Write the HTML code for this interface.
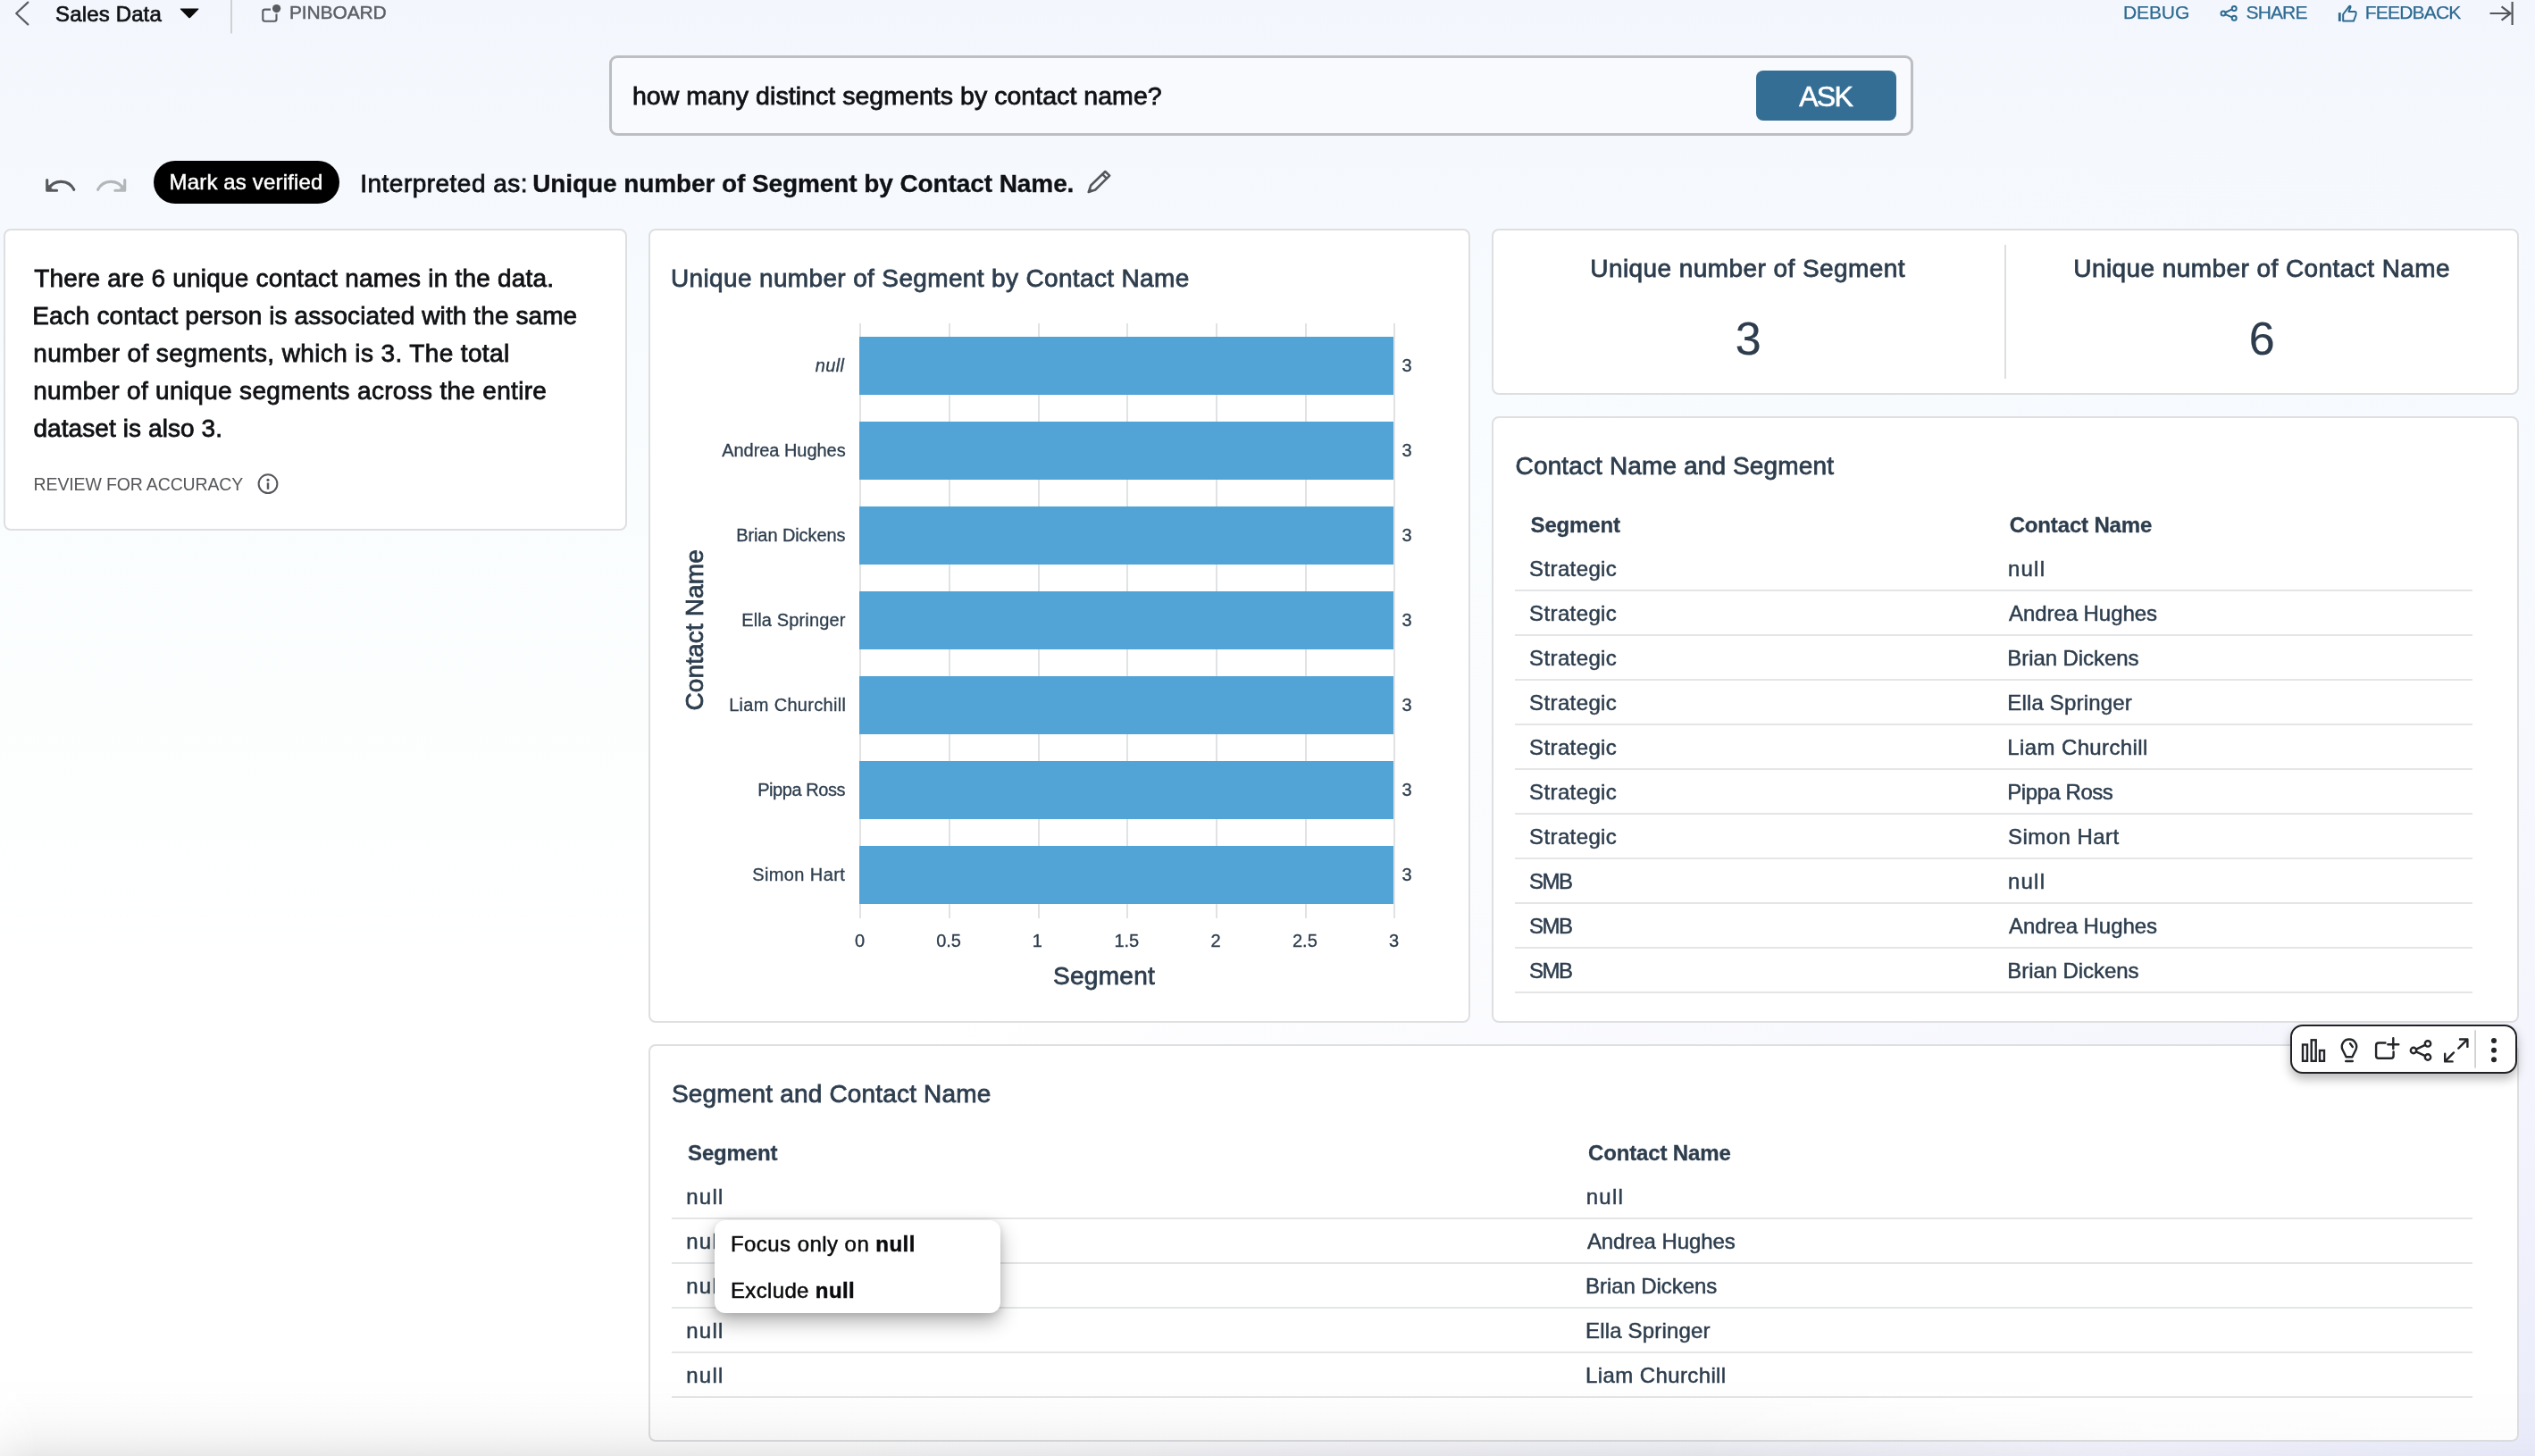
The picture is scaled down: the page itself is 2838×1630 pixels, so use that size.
<!DOCTYPE html>
<html lang="en"><head><meta charset="utf-8"><title>Sales Data</title>
<style>
html,body{margin:0;padding:0}
body{width:2838px;height:1630px;overflow:hidden;position:relative;font-family:"Liberation Sans",sans-serif;
 background-color:#fff;
 background-image:
  radial-gradient(ellipse 1900px 1500px at 100% 100%, rgba(234,235,251,0.95) 0%, rgba(236,238,251,0.5) 35%, rgba(240,242,252,0) 100%),
  linear-gradient(to bottom, #f3f7fd 0px, #f5f9fe 150px, #f6fafe 260px, #fafdfe 560px, #fcfefe 800px, #ffffff 1100px);
}
.t{position:absolute;white-space:pre;line-height:1;font-family:"Liberation Sans",sans-serif;-webkit-text-stroke-color:currentColor}
.t b{font-weight:700}.t i{font-style:italic}
#app{position:absolute;left:0;top:0;width:2838px;height:1630px;will-change:transform}
.abs{position:absolute}
.card{position:absolute;box-sizing:border-box;background:#fff;border:2px solid #dedfe1;border-radius:8px}
.hl{position:absolute;height:2px;background:#e3e5e7}
.grid{position:absolute;width:2px;background:#e0e2e4;top:362px;height:666px}
.bar{position:absolute;left:962px;width:598px;height:65.4px;background:#53a4d6}
svg{position:absolute;overflow:visible}
</style></head>
<body>
<div id="app">
<svg style="left:0;top:0" width="460" height="40" viewBox="0 0 460 40"><polyline points="31.3,2.6 18.2,15 31.3,27.4" fill="none" stroke="#5a5c60" stroke-width="2.2" stroke-linecap="round" stroke-linejoin="round"/><path d="M202.4,9.6 L221.8,9.6 Q223,9.6 222.2,10.6 L212.9,19.9 Q212.1,20.6 211.3,19.9 L202,10.6 Q201.2,9.6 202.4,9.6 Z" fill="#0b0b0c"/><rect x="258" y="0" width="2" height="37.5" fill="#cfd1d4"/><path d="M303,10.6 L296.5,10.6 Q294.3,10.6 294.3,12.8 L294.3,21.6 Q294.3,23.8 296.5,23.8 L307.3,23.8 Q309.5,23.8 309.5,21.6 L309.5,15.5" fill="none" stroke="#5a5c60" stroke-width="2.1"/><circle cx="309.6" cy="9.6" r="4.6" fill="#5a5c60"/></svg>
<svg style="left:2470px;top:0" width="368" height="40" viewBox="2470 0 368 40"><g fill="none" stroke="#2e6a91" stroke-width="2"><circle cx="2489" cy="15" r="2.5"/><circle cx="2501.2" cy="9.4" r="2.5"/><circle cx="2501.2" cy="20.3" r="2.5"/><path d="M2491.3,14 L2498.9,10.4 M2491.3,16.1 L2498.9,19.3"/><path d="M2623.2,23.6 L2623.2,16 L2630.2,6.9 Q2631.6,6.3 2631.5,8 L2629.4,12.9 L2636.6,12.9 Q2637.9,13.1 2637.7,14.6 L2637.4,17 L2634.9,23.6 Z" stroke-linejoin="round"/></g><rect x="2617.9" y="14.2" width="2.8" height="9.7" fill="#2e6a91"/><g fill="none" stroke="#54565a" stroke-width="2.2"><path d="M2787.5,15 L2810,15 M2800.6,7.4 L2810.6,15 L2800.6,22.6" stroke-linejoin="miter"/><path d="M2812.6,2 L2812.6,28"/></g></svg>
<div class="abs" style="left:682px;top:62px;width:1460px;height:90px;box-sizing:border-box;border:3px solid #bcbec3;border-radius:9px;background:#f8fafe"></div>
<div class="abs" style="left:1966px;top:79px;width:157px;height:56px;border-radius:8px;background:#356e95"></div>
<svg style="left:40px;top:185px" width="120" height="45" viewBox="40 185 120 45"><g fill="none" stroke="#58595c" stroke-width="3.1" stroke-linecap="round" stroke-linejoin="round"><path d="M82.8,212.3 A16.2,16.2 0 0 0 54.2,211.6"/><path d="M52.7,201.6 L52.7,213.2 L63.6,213.2"/><path d="M53.5,207 L53.5,212.4 L58.5,212.4 Z" fill="#58595c" stroke-width="1"/></g><g fill="none" stroke="#b4b7b9" stroke-width="3.1" stroke-linecap="round" stroke-linejoin="round"><path d="M109.6,212.3 A16.2,16.2 0 0 1 138.2,211.6"/><path d="M139.7,201.6 L139.7,213.2 L128.8,213.2"/><path d="M138.9,207 L138.9,212.4 L133.9,212.4 Z" fill="#b4b7b9" stroke-width="1"/></g></svg>
<div class="abs" style="left:172px;top:180px;width:208px;height:48px;border-radius:24px;background:#000"></div>
<svg style="left:1210px;top:185px" width="40" height="36" viewBox="1210 185 40 36"><path d="M1218.7,215 L1221.3,207.5 L1237.3,192 L1242.2,196.7 L1226.2,212.5 Z M1234.2,195.1 L1239.1,199.8" fill="none" stroke="#55575b" stroke-width="2.5" stroke-linejoin="round"/><path d="M1218.7,215 L1220.2,210.4 L1223.4,213.5 Z" fill="#55575b"/></svg>
<div class="card" style="left:4px;top:256px;width:698px;height:338px"></div>
<div class="card" style="left:726px;top:256px;width:920px;height:889px"></div>
<div class="card" style="left:1670px;top:256px;width:1150px;height:186px"></div>
<div class="card" style="left:1670px;top:466px;width:1150px;height:679px"></div>
<div class="card" style="left:726px;top:1169px;width:2094px;height:445px"></div>
<svg style="left:286px;top:528px" width="28" height="28" viewBox="286 528 28 28"><circle cx="300" cy="541.7" r="10.4" fill="none" stroke="#55575a" stroke-width="2"/><circle cx="300" cy="537.3" r="1.6" fill="#55575a"/><rect x="298.75" y="540.4" width="2.5" height="7.4" fill="#55575a"/></svg>
<div class="grid" style="left:962px"></div>
<div class="grid" style="left:1062px"></div>
<div class="grid" style="left:1162px"></div>
<div class="grid" style="left:1261px"></div>
<div class="grid" style="left:1361px"></div>
<div class="grid" style="left:1461px"></div>
<div class="grid" style="left:1560px"></div>
<div class="bar" style="top:376.7px"></div>
<div class="bar" style="top:471.8px"></div>
<div class="bar" style="top:566.8px"></div>
<div class="bar" style="top:661.9px"></div>
<div class="bar" style="top:756.9px"></div>
<div class="bar" style="top:852.0px"></div>
<div class="bar" style="top:947.1px"></div>
<div class="abs" style="left:2244px;top:274px;width:2px;height:150px;background:#dcdfe2"></div>
<div class="hl" style="left:1696px;width:1072px;top:660px"></div>
<div class="hl" style="left:1696px;width:1072px;top:710px"></div>
<div class="hl" style="left:1696px;width:1072px;top:760px"></div>
<div class="hl" style="left:1696px;width:1072px;top:810px"></div>
<div class="hl" style="left:1696px;width:1072px;top:860px"></div>
<div class="hl" style="left:1696px;width:1072px;top:910px"></div>
<div class="hl" style="left:1696px;width:1072px;top:960px"></div>
<div class="hl" style="left:1696px;width:1072px;top:1010px"></div>
<div class="hl" style="left:1696px;width:1072px;top:1060px"></div>
<div class="hl" style="left:1696px;width:1072px;top:1110px"></div>
<div class="hl" style="left:752px;width:2016px;top:1363px"></div>
<div class="hl" style="left:752px;width:2016px;top:1413px"></div>
<div class="hl" style="left:752px;width:2016px;top:1463px"></div>
<div class="hl" style="left:752px;width:2016px;top:1513px"></div>
<div class="hl" style="left:752px;width:2016px;top:1563px"></div>
<span class="t" style="left:62.1px;top:4.0px;font-size:24px;color:#0f1114;letter-spacing:0.143px;-webkit-text-stroke-width:0.67px">Sales Data</span>
<span class="t" style="left:324.0px;top:3.0px;font-size:21px;color:#5b5f65;letter-spacing:-0.143px;-webkit-text-stroke-width:0.46px">PINBOARD</span>
<span class="t" style="left:2377.0px;top:3.0px;font-size:21px;color:#2e6a91;letter-spacing:-0.109px;-webkit-text-stroke-width:0.25px">DEBUG</span>
<span class="t" style="left:2514.6px;top:3.0px;font-size:21px;color:#2e6a91;letter-spacing:-0.883px;-webkit-text-stroke-width:0.25px">SHARE</span>
<span class="t" style="left:2647.8px;top:3.0px;font-size:21px;color:#2e6a91;letter-spacing:-0.804px;-webkit-text-stroke-width:0.25px">FEEDBACK</span>
<span class="t" style="left:707.9px;top:93.0px;font-size:28.5px;color:#0f1114;letter-spacing:0.045px;-webkit-text-stroke-width:0.8px">how many distinct segments by contact name?</span>
<span class="t" style="left:2014.2px;top:92.0px;font-size:32px;color:#ffffff;letter-spacing:-1.748px;-webkit-text-stroke-width:0.64px">ASK</span>
<span class="t" style="left:189.6px;top:192.0px;font-size:24px;color:#ffffff;letter-spacing:0.153px;-webkit-text-stroke-width:0.48px">Mark as verified</span>
<span class="t" style="left:403.3px;top:192.0px;font-size:28px;color:#0f1114;letter-spacing:0.475px;-webkit-text-stroke-width:0.78px">Interpreted as:</span>
<span class="t" style="left:596.2px;top:192.0px;font-size:28px;color:#0f1114;letter-spacing:-0.091px;-webkit-text-stroke-width:0.34px"><b>Unique number of Segment by Contact Name.</b></span>
<span class="t" style="left:38.2px;top:298.0px;font-size:28px;color:#0f1114;letter-spacing:0.205px;-webkit-text-stroke-width:0.78px">There are 6 unique contact names in the data.</span>
<span class="t" style="left:36.3px;top:340.0px;font-size:28px;color:#0f1114;letter-spacing:0.097px;-webkit-text-stroke-width:0.78px">Each contact person is associated with the same</span>
<span class="t" style="left:37.2px;top:382.0px;font-size:28px;color:#0f1114;letter-spacing:0.382px;-webkit-text-stroke-width:0.78px">number of segments, which is 3. The total</span>
<span class="t" style="left:37.2px;top:424.0px;font-size:28px;color:#0f1114;letter-spacing:0.305px;-webkit-text-stroke-width:0.78px">number of unique segments across the entire</span>
<span class="t" style="left:37.4px;top:466.0px;font-size:28px;color:#0f1114;letter-spacing:0.088px;-webkit-text-stroke-width:0.78px">dataset is also 3.</span>
<span class="t" style="left:37.6px;top:533.0px;font-size:19.5px;color:#55575a;letter-spacing:-0.144px;-webkit-text-stroke-width:0.0px">REVIEW FOR ACCURACY</span>
<span class="t" style="left:751.0px;top:298.0px;font-size:28px;color:#2d3d4d;letter-spacing:0.353px;-webkit-text-stroke-width:0.78px">Unique number of Segment by Contact Name</span>
<span class="t" style="left:912.8px;top:399.0px;font-size:20px;color:#2d3d4d;letter-spacing:0.333px;-webkit-text-stroke-width:0.3px"><i>null</i></span>
<span class="t" style="left:1569.6px;top:399.0px;font-size:20px;color:#2d3d4d;letter-spacing:0px;-webkit-text-stroke-width:0.3px">3</span>
<span class="t" style="left:808.2px;top:494.0px;font-size:20px;color:#2d3d4d;letter-spacing:-0.039px;-webkit-text-stroke-width:0.3px">Andrea Hughes</span>
<span class="t" style="left:1569.6px;top:494.0px;font-size:20px;color:#2d3d4d;letter-spacing:0px;-webkit-text-stroke-width:0.3px">3</span>
<span class="t" style="left:824.2px;top:589.0px;font-size:20px;color:#2d3d4d;letter-spacing:-0.092px;-webkit-text-stroke-width:0.3px">Brian Dickens</span>
<span class="t" style="left:1569.6px;top:589.0px;font-size:20px;color:#2d3d4d;letter-spacing:0px;-webkit-text-stroke-width:0.3px">3</span>
<span class="t" style="left:830.2px;top:684.0px;font-size:20px;color:#2d3d4d;letter-spacing:0.135px;-webkit-text-stroke-width:0.3px">Ella Springer</span>
<span class="t" style="left:1569.6px;top:684.0px;font-size:20px;color:#2d3d4d;letter-spacing:0px;-webkit-text-stroke-width:0.3px">3</span>
<span class="t" style="left:816.2px;top:779.0px;font-size:20px;color:#2d3d4d;letter-spacing:0.308px;-webkit-text-stroke-width:0.3px">Liam Churchill</span>
<span class="t" style="left:1569.6px;top:779.0px;font-size:20px;color:#2d3d4d;letter-spacing:0px;-webkit-text-stroke-width:0.3px">3</span>
<span class="t" style="left:848.2px;top:874.0px;font-size:20px;color:#2d3d4d;letter-spacing:-0.433px;-webkit-text-stroke-width:0.3px">Pippa Ross</span>
<span class="t" style="left:1569.6px;top:874.0px;font-size:20px;color:#2d3d4d;letter-spacing:0px;-webkit-text-stroke-width:0.3px">3</span>
<span class="t" style="left:842.2px;top:969.0px;font-size:20px;color:#2d3d4d;letter-spacing:0.398px;-webkit-text-stroke-width:0.3px">Simon Hart</span>
<span class="t" style="left:1569.6px;top:969.0px;font-size:20px;color:#2d3d4d;letter-spacing:0px;-webkit-text-stroke-width:0.3px">3</span>
<span class="t" style="left:957.0px;top:1043.0px;font-size:20px;color:#2d3d4d;letter-spacing:0px;-webkit-text-stroke-width:0.3px">0</span>
<span class="t" style="left:1048.2px;top:1043.0px;font-size:20px;color:#2d3d4d;letter-spacing:0px;-webkit-text-stroke-width:0.3px">0.5</span>
<span class="t" style="left:1155.8px;top:1043.0px;font-size:20px;color:#2d3d4d;letter-spacing:0px;-webkit-text-stroke-width:0.3px">1</span>
<span class="t" style="left:1247.4px;top:1043.0px;font-size:20px;color:#2d3d4d;letter-spacing:0px;-webkit-text-stroke-width:0.3px">1.5</span>
<span class="t" style="left:1355.4px;top:1043.0px;font-size:20px;color:#2d3d4d;letter-spacing:0px;-webkit-text-stroke-width:0.3px">2</span>
<span class="t" style="left:1447.0px;top:1043.0px;font-size:20px;color:#2d3d4d;letter-spacing:0px;-webkit-text-stroke-width:0.3px">2.5</span>
<span class="t" style="left:1555.0px;top:1043.0px;font-size:20px;color:#2d3d4d;letter-spacing:0px;-webkit-text-stroke-width:0.3px">3</span>
<span class="t" style="left:1179.0px;top:1079.0px;font-size:28px;color:#2d3d4d;letter-spacing:0.29px;-webkit-text-stroke-width:0.78px">Segment</span>
<span class="t" style="left:0;top:0;transform-origin:0 0;transform:translate(764.4px,795.5px) rotate(-90deg);font-size:28px;color:#2d3d4d;letter-spacing:0.119px;-webkit-text-stroke-width:0.78px">Contact Name</span>
<span class="t" style="left:1780.3px;top:287.0px;font-size:28px;color:#2d3d4d;letter-spacing:0.425px;-webkit-text-stroke-width:0.78px">Unique number of Segment</span>
<span class="t" style="left:1942.7px;top:353.0px;font-size:52px;color:#2d3d4d;letter-spacing:0px;-webkit-text-stroke-width:0.21px">3</span>
<span class="t" style="left:2321.3px;top:287.0px;font-size:28px;color:#2d3d4d;letter-spacing:0.429px;-webkit-text-stroke-width:0.78px">Unique number of Contact Name</span>
<span class="t" style="left:2517.8px;top:353.0px;font-size:52px;color:#2d3d4d;letter-spacing:0px;-webkit-text-stroke-width:0.21px">6</span>
<span class="t" style="left:1696.6px;top:508.0px;font-size:28px;color:#2d3d4d;letter-spacing:0.131px;-webkit-text-stroke-width:0.78px">Contact Name and Segment</span>
<span class="t" style="left:1713.6px;top:576.0px;font-size:24px;color:#2d3d4d;letter-spacing:-0.173px;-webkit-text-stroke-width:0.29px"><b>Segment</b></span>
<span class="t" style="left:2249.7px;top:576.0px;font-size:24px;color:#2d3d4d;letter-spacing:-0.158px;-webkit-text-stroke-width:0.29px"><b>Contact Name</b></span>
<span class="t" style="left:1712.1px;top:625.0px;font-size:24px;color:#2d3d4d;letter-spacing:0.378px;-webkit-text-stroke-width:0.48px">Strategic</span>
<span class="t" style="left:2248.0px;top:625.0px;font-size:24px;color:#2d3d4d;letter-spacing:1.2px;-webkit-text-stroke-width:0.48px">null</span>
<span class="t" style="left:1712.1px;top:675.0px;font-size:24px;color:#2d3d4d;letter-spacing:0.378px;-webkit-text-stroke-width:0.48px">Strategic</span>
<span class="t" style="left:2249.1px;top:675.0px;font-size:24px;color:#2d3d4d;letter-spacing:-0.077px;-webkit-text-stroke-width:0.48px">Andrea Hughes</span>
<span class="t" style="left:1712.1px;top:725.0px;font-size:24px;color:#2d3d4d;letter-spacing:0.378px;-webkit-text-stroke-width:0.48px">Strategic</span>
<span class="t" style="left:2247.3px;top:725.0px;font-size:24px;color:#2d3d4d;letter-spacing:-0.078px;-webkit-text-stroke-width:0.48px">Brian Dickens</span>
<span class="t" style="left:1712.1px;top:775.0px;font-size:24px;color:#2d3d4d;letter-spacing:0.378px;-webkit-text-stroke-width:0.48px">Strategic</span>
<span class="t" style="left:2247.3px;top:775.0px;font-size:24px;color:#2d3d4d;letter-spacing:0.168px;-webkit-text-stroke-width:0.48px">Ella Springer</span>
<span class="t" style="left:1712.1px;top:825.0px;font-size:24px;color:#2d3d4d;letter-spacing:0.378px;-webkit-text-stroke-width:0.48px">Strategic</span>
<span class="t" style="left:2247.3px;top:825.0px;font-size:24px;color:#2d3d4d;letter-spacing:0.385px;-webkit-text-stroke-width:0.48px">Liam Churchill</span>
<span class="t" style="left:1712.1px;top:875.0px;font-size:24px;color:#2d3d4d;letter-spacing:0.378px;-webkit-text-stroke-width:0.48px">Strategic</span>
<span class="t" style="left:2247.3px;top:875.0px;font-size:24px;color:#2d3d4d;letter-spacing:-0.472px;-webkit-text-stroke-width:0.48px">Pippa Ross</span>
<span class="t" style="left:1712.1px;top:925.0px;font-size:24px;color:#2d3d4d;letter-spacing:0.378px;-webkit-text-stroke-width:0.48px">Strategic</span>
<span class="t" style="left:2248.1px;top:925.0px;font-size:24px;color:#2d3d4d;letter-spacing:0.437px;-webkit-text-stroke-width:0.48px">Simon Hart</span>
<span class="t" style="left:1712.1px;top:975.0px;font-size:24px;color:#2d3d4d;letter-spacing:-1.531px;-webkit-text-stroke-width:0.48px">SMB</span>
<span class="t" style="left:2248.0px;top:975.0px;font-size:24px;color:#2d3d4d;letter-spacing:1.2px;-webkit-text-stroke-width:0.48px">null</span>
<span class="t" style="left:1712.1px;top:1025.0px;font-size:24px;color:#2d3d4d;letter-spacing:-1.531px;-webkit-text-stroke-width:0.48px">SMB</span>
<span class="t" style="left:2249.1px;top:1025.0px;font-size:24px;color:#2d3d4d;letter-spacing:-0.077px;-webkit-text-stroke-width:0.48px">Andrea Hughes</span>
<span class="t" style="left:1712.1px;top:1075.0px;font-size:24px;color:#2d3d4d;letter-spacing:-1.531px;-webkit-text-stroke-width:0.48px">SMB</span>
<span class="t" style="left:2247.3px;top:1075.0px;font-size:24px;color:#2d3d4d;letter-spacing:-0.078px;-webkit-text-stroke-width:0.48px">Brian Dickens</span>
<span class="t" style="left:752.0px;top:1211.0px;font-size:28px;color:#2d3d4d;letter-spacing:0.173px;-webkit-text-stroke-width:0.78px">Segment and Contact Name</span>
<span class="t" style="left:770.1px;top:1279.0px;font-size:24px;color:#2d3d4d;letter-spacing:-0.173px;-webkit-text-stroke-width:0.29px"><b>Segment</b></span>
<span class="t" style="left:1778.1px;top:1279.0px;font-size:24px;color:#2d3d4d;letter-spacing:-0.158px;-webkit-text-stroke-width:0.29px"><b>Contact Name</b></span>
<span class="t" style="left:768.3px;top:1328.0px;font-size:24px;color:#2d3d4d;letter-spacing:1.2px;-webkit-text-stroke-width:0.48px">null</span>
<span class="t" style="left:1775.8px;top:1328.0px;font-size:24px;color:#2d3d4d;letter-spacing:1.2px;-webkit-text-stroke-width:0.48px">null</span>
<span class="t" style="left:768.3px;top:1378.0px;font-size:24px;color:#2d3d4d;letter-spacing:1.2px;-webkit-text-stroke-width:0.48px">null</span>
<span class="t" style="left:1776.9px;top:1378.0px;font-size:24px;color:#2d3d4d;letter-spacing:-0.077px;-webkit-text-stroke-width:0.48px">Andrea Hughes</span>
<span class="t" style="left:768.3px;top:1428.0px;font-size:24px;color:#2d3d4d;letter-spacing:1.2px;-webkit-text-stroke-width:0.48px">null</span>
<span class="t" style="left:1775.1px;top:1428.0px;font-size:24px;color:#2d3d4d;letter-spacing:-0.078px;-webkit-text-stroke-width:0.48px">Brian Dickens</span>
<span class="t" style="left:768.3px;top:1478.0px;font-size:24px;color:#2d3d4d;letter-spacing:1.2px;-webkit-text-stroke-width:0.48px">null</span>
<span class="t" style="left:1775.1px;top:1478.0px;font-size:24px;color:#2d3d4d;letter-spacing:0.168px;-webkit-text-stroke-width:0.48px">Ella Springer</span>
<span class="t" style="left:768.3px;top:1528.0px;font-size:24px;color:#2d3d4d;letter-spacing:1.2px;-webkit-text-stroke-width:0.48px">null</span>
<span class="t" style="left:1775.1px;top:1528.0px;font-size:24px;color:#2d3d4d;letter-spacing:0.385px;-webkit-text-stroke-width:0.48px">Liam Churchill</span>
<div class="abs" style="left:800px;top:1366px;width:320px;height:104px;border-radius:12px;background:#fff;box-shadow:0 10px 22px rgba(0,0,0,0.30),0 2px 8px rgba(0,0,0,0.12)"></div>
<span class="t" style="left:817.9px;top:1381.0px;font-size:24px;color:#0a0b0d;letter-spacing:0.453px;-webkit-text-stroke-width:0.48px">Focus only on <b>null</b></span>
<span class="t" style="left:817.9px;top:1433.0px;font-size:24px;color:#0a0b0d;letter-spacing:0.364px;-webkit-text-stroke-width:0.48px">Exclude <b>null</b></span>
<div class="abs" style="left:2564px;top:1147px;width:254px;height:55px;box-sizing:border-box;border:2px solid #1f2124;border-radius:14px;background:#fff;box-shadow:0 6px 12px rgba(0,0,0,0.28)"></div>
<svg style="left:2564px;top:1147px" width="254" height="55" viewBox="2564 1147 254 55"><g fill="none" stroke="#232528" stroke-width="2.4" stroke-linejoin="round" stroke-linecap="round"><rect x="2578" y="1169.5" width="5" height="18.3" stroke-linejoin="miter"/><rect x="2587.7" y="1164.3" width="5" height="23.5" stroke-linejoin="miter"/><rect x="2597" y="1176" width="5" height="11.8" stroke-linejoin="miter"/><path d="M2626.6,1183.3 L2622.6,1175.2 A8.2,8.2 0 1 1 2637.4,1175.2 L2633.4,1183.3 Z"/><path d="M2626.2,1188 L2633.8,1188"/><path d="M2631,1168.3 L2633.8,1172"/><path d="M2670.5,1167.5 L2663,1167.5 Q2660.1,1167.5 2660.1,1170.4 L2660.1,1181.9 Q2660.1,1184.8 2663,1184.8 L2676.7,1184.8 Q2679.6,1184.8 2679.6,1181.9 L2679.6,1177.5"/><path d="M2673.3,1169.2 L2685.3,1169.2 M2679.3,1162.2 L2679.3,1174"/><circle cx="2702" cy="1176" r="3.2"/><circle cx="2718" cy="1168.4" r="3.2"/><circle cx="2718" cy="1183.5" r="3.2"/><path d="M2704.9,1174.6 L2715.1,1169.8 M2704.9,1177.4 L2715.1,1182.1"/><path d="M2752.3,1173.6 L2762.2,1163.7 M2754,1163.5 L2762.4,1163.5 L2762.4,1171.9"/><path d="M2747,1178.4 L2737.4,1188.2 M2737.2,1179.8 L2737.2,1188.4 L2745.6,1188.4"/></g><rect x="2770.3" y="1153.3" width="1.6" height="42.4" fill="#c9cbce"/><circle cx="2792" cy="1165" r="3" fill="#232528"/><circle cx="2792" cy="1175.8" r="3" fill="#232528"/><circle cx="2792" cy="1186.3" r="3" fill="#232528"/></svg>
<div class="abs" style="left:0;top:1540px;width:2838px;height:90px;pointer-events:none;background:linear-gradient(to bottom, rgba(40,40,50,0) 0%, rgba(40,40,50,0.006) 30%, rgba(40,40,50,0.022) 55%, rgba(40,40,50,0.05) 78%, rgba(40,40,50,0.10) 100%);-webkit-mask-image:linear-gradient(to right,rgba(0,0,0,0.55) 0,#000 40px,#000 1900px,rgba(0,0,0,0.35) 2400px,rgba(0,0,0,0.25) 2838px);mask-image:linear-gradient(to right,rgba(0,0,0,0.55) 0,#000 40px,#000 1900px,rgba(0,0,0,0.35) 2400px,rgba(0,0,0,0.25) 2838px)"></div>
</div>
</body></html>
